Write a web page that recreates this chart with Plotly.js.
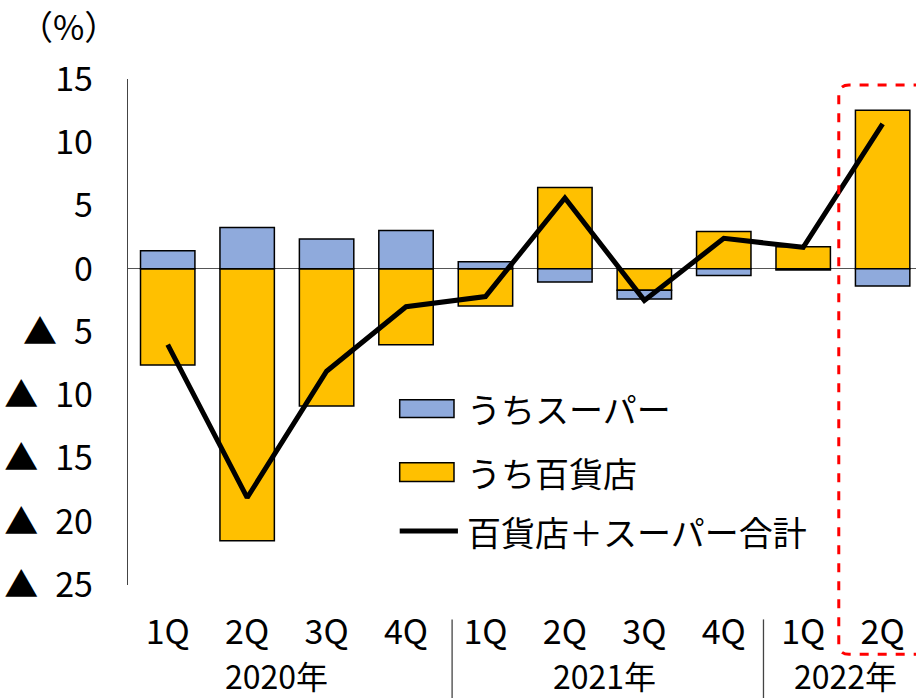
<!DOCTYPE html>
<html>
<head>
<meta charset="utf-8">
<script src="https://cdn.plot.ly/plotly-3.0.1.min.js"></script>
<style>html,body{margin:0;padding:0;background:#fff;}#chart{width:916px;height:698px;}</style>
</head>
<body>
<div id="chart"></div>
<script>
// ---- data ----
const quarters = ['1Q','2Q','3Q','4Q','1Q','2Q','3Q','4Q','1Q','2Q'];
const years = ['2020年','2021年','2022年'];
const depatoValues = [-7.6, -21.5, -10.85, -6.0, -2.95, 6.42, -1.7, 2.95, 1.74, 12.53];   // うち百貨店
const superValues  = [1.42, 3.27, 2.35, 3.03, 0.55, -1.05, -0.7, -0.53, -0.1, -1.37];     // うちスーパー
const totalValues  = [-6.0, -18.1, -8.1, -3.0, -2.2, 5.6, -2.5, 2.4, 1.7, 11.45];       // 百貨店＋スーパー合計
const yTickVals = [15, 10, 5, 0, -5, -10, -15, -20, -25];
const yTickText = ['15', '10', '5', '0', '▲\u20025', '▲\u200210', '▲\u200215', '▲\u200220', '▲\u200225'];
const seriesNames = ['うちスーパー', 'うち百貨店', '百貨店＋スーパー合計'];

const xIdx = quarters.map((_, i) => i);
const FONT = '"Noto Sans CJK JP", "Noto Sans", sans-serif';
const BLUE = '#8FAADC', YELLOW = '#FFC000';

const traces = [
  {
    type: 'bar', name: seriesNames[1], x: xIdx, y: depatoValues,
    marker: {color: YELLOW, line: {color: '#000', width: 1.5}}, width: 0.685
  },
  {
    type: 'bar', name: seriesNames[0], x: xIdx, y: superValues,
    marker: {color: BLUE, line: {color: '#000', width: 1.5}}, width: 0.685
  },
  {
    type: 'scatter', mode: 'lines', name: seriesNames[2], x: xIdx, y: totalValues,
    line: {color: '#000', width: 5}
  }
];

// red dashed rounded rectangle (paper coords)
const x0 = 0.902, x1 = 1.012, yt = 0.988, yb = -0.137, rx = 0.013, ry = 0.02;
const rrPath = `M${x0},${yb+ry} L${x0},${yt-ry} Q${x0},${yt} ${x0+rx},${yt} L${x1-rx},${yt} Q${x1},${yt} ${x1},${yt-ry} L${x1},${yb+ry} Q${x1},${yb} ${x1-rx},${yb} L${x0+rx},${yb} Q${x0},${yb} ${x0},${yb+ry} Z`;

const yearPos = [1.37, 5.5, 8.53];

// legend (drawn as keys + labels, paper coords)
const legKeyX0 = 0.3448, legKeyX1 = 0.4137, legTextX = 0.4277;
const legRows = [0.3486, 0.2232, 0.1048];

const layout = {
  width: 916, height: 698,
  margin: {l: 128, r: 0, t: 79, b: 113},
  paper_bgcolor: '#fff', plot_bgcolor: '#fff',
  font: {family: FONT, size: 34, color: '#000'},
  barmode: 'relative',
  showlegend: false,
  xaxis: {
    range: [-0.5, 9.42], tickmode: 'array', tickvals: xIdx, ticktext: quarters,
    showgrid: false, zeroline: false, showline: false, ticks: '',
    ticklabelstandoff: 24, tickfont: {family: FONT, size: 34, color: '#000'}
  },
  yaxis: {
    range: [-25, 15], tickmode: 'array', tickvals: yTickVals, ticktext: yTickText,
    showgrid: false, zeroline: true, zerolinecolor: '#555', zerolinewidth: 1.3,
    showline: true, linecolor: '#444', linewidth: 1.3, ticks: '',
    ticklabelstandoff: 27, tickfont: {family: FONT, size: 34, color: '#000'}
  },
  shapes: [
    {type: 'path', xref: 'paper', yref: 'paper', path: rrPath,
     line: {color: '#FF0000', width: 3, dash: 'dash'}, fillcolor: 'rgba(0,0,0,0)', layer: 'above'},
    {type: 'line', xref: 'x', yref: 'paper', x0: 3.58, x1: 3.58, y0: -0.068, y1: -0.23,
     line: {color: '#444', width: 1.3}},
    {type: 'line', xref: 'x', yref: 'paper', x0: 7.5, x1: 7.5, y0: -0.068, y1: -0.23,
     line: {color: '#444', width: 1.3}},
    // legend keys
    {type: 'rect', xref: 'paper', yref: 'paper', x0: legKeyX0, x1: legKeyX1, y0: legRows[0] - 0.0175, y1: legRows[0] + 0.0175,
     fillcolor: BLUE, line: {color: '#000', width: 1.5}},
    {type: 'rect', xref: 'paper', yref: 'paper', x0: legKeyX0, x1: legKeyX1, y0: legRows[1] - 0.0185, y1: legRows[1] + 0.0185,
     fillcolor: YELLOW, line: {color: '#000', width: 1.5}},
    {type: 'line', xref: 'paper', yref: 'paper', x0: legKeyX0, x1: legKeyX1 + 0.005, y0: legRows[2] + 0.002, y1: legRows[2] + 0.002,
     line: {color: '#000', width: 5}}
  ],
  annotations: [
    {text: '（%）', xref: 'paper', yref: 'paper', x: -0.076, y: 1.1066,
     xanchor: 'center', yanchor: 'middle', showarrow: false, font: {family: FONT, size: 34, color: '#000'}}
  ].concat(years.map((yr, i) => ({
    text: yr, xref: 'x', yref: 'paper', x: yearPos[i], y: -0.177,
    xanchor: 'center', yanchor: 'middle', showarrow: false, font: {family: FONT, size: 32, color: '#000'}
  }))).concat(seriesNames.map((nm, i) => ({
    text: nm, xref: 'paper', yref: 'paper', x: legTextX, y: legRows[i],
    xanchor: 'left', yanchor: 'middle', showarrow: false, font: {family: FONT, size: 34, color: '#000'}
  })))
};

Plotly.newPlot('chart', traces, layout, {displayModeBar: false, staticPlot: true});
</script>
</body>
</html>
